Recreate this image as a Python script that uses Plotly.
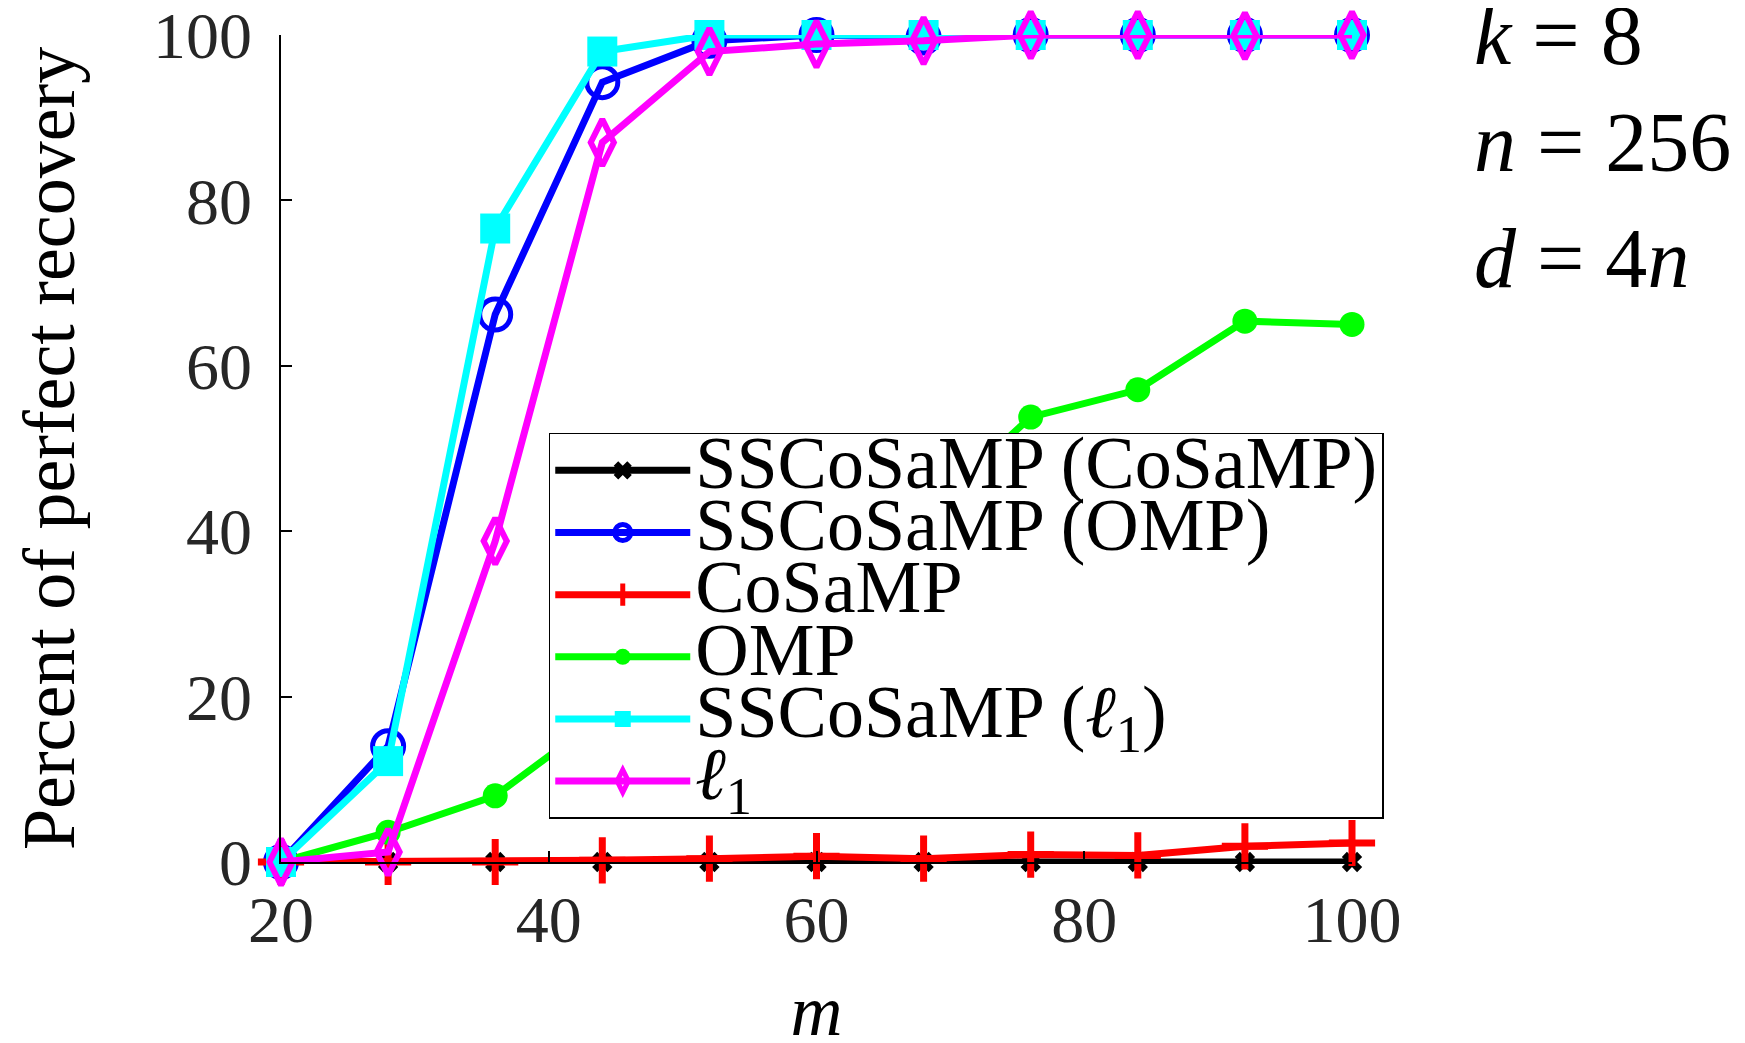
import plotly.graph_objects as go

# ---- data ----
m_values = [20, 28, 36, 44, 52, 60, 68, 76, 84, 92, 100]
ss_cosamp = [0, 0, 0, 0, 0, 0, 0, 0, 0, 0, 0]
ss_omp = [0, 14.0, 66.2, 94.3, 99.3, 100, 99.7, 100, 100, 100, 100]
cosamp = [0, 0, 0, 0.2, 0.4, 0.7, 0.4, 0.9, 0.8, 1.9, 2.3]
omp = [0, 3.6, 8.0, 17.6, 26, 34, 42, 53.8, 57.1, 65.4, 65.0]
ss_l1 = [0, 12.2, 76.6, 98.0, 100, 100, 100, 100, 100, 100, 100]
l1 = [0, 1.2, 38.8, 87.0, 98.0, 98.9, 99.3, 100, 100, 99.9, 100]

names = ["SSCoSaMP (CoSaMP)", "SSCoSaMP (OMP)", "CoSaMP", "OMP",
         "SSCoSaMP (<i>ℓ</i><sub>1</sub>)", "<i>ℓ</i><sub>1</sub>"]
x_ticks = [20, 40, 60, 80, 100]
y_ticks = [0, 20, 40, 60, 80, 100]
params = ["<i>k</i> = 8", "<i>n</i> = 256", "<i>d</i> = 4<i>n</i>"]

FONT = "Liberation Serif"

def big(s):
    return f'<span style="font-size:74px">{s}</span>'

styles = [
    dict(color="#000000", symbol="x", size=18, lw=0),
    dict(color="#0000FF", symbol="circle-open", size=31, lw=5),
    dict(color="#FF0000", symbol="cross-thin", size=33, lw=7),
    dict(color="#00FF00", symbol="circle", size=25, lw=0),
    dict(color="#00FFFF", symbol="square", size=30, lw=0),
    dict(color="#FF00FF", symbol="diamond-tall-open", size=33, lw=6),
]
series = [ss_cosamp, ss_omp, cosamp, omp, ss_l1, l1]

fig = go.Figure()
for name, ys, st in zip(names, series, styles):
    fig.add_trace(go.Scatter(
        x=m_values, y=ys, name=big(name), mode="lines+markers",
        line=dict(color=st["color"], width=7),
        marker=dict(symbol=st["symbol"], size=st["size"], color=st["color"],
                    line=dict(color=st["color"], width=st["lw"])),
        cliponaxis=False,
    ))

for txt, yy in zip(params, [0.999, 0.8695, 0.7294]):
    fig.add_annotation(
        text=txt, xref="paper", yref="paper", x=1.112, y=yy,
        xanchor="left", yanchor="middle", showarrow=False,
        font=dict(family=FONT, size=84, color="black"),
    )

fig.update_layout(
    width=1745, height=1043, autosize=False,
    margin=dict(l=273, r=401, t=27, b=189, autoexpand=False),
    paper_bgcolor="white", plot_bgcolor="white",
    showlegend=True,
    legend=dict(
        x=0.250, y=0.519, xanchor="left", yanchor="top",
        bgcolor="white", bordercolor="black", borderwidth=1.5,
        font=dict(family=FONT, size=45.5, color="black"),
        itemwidth=135, entrywidth=830, entrywidthmode="pixels",
        tracegroupgap=0,
    ),
    xaxis=dict(
        range=[20, 100], tickvals=x_ticks, ticktext=[str(v) for v in x_ticks],
        showgrid=False, zeroline=False, showline=True, linecolor="black", linewidth=1.5,
        ticks="inside", ticklen=11, tickwidth=1.5, tickcolor="black", automargin=False,
        tickfont=dict(family=FONT, size=66, color="#262626"), ticklabelstandoff=-1,
        ticklabeloverflow="allow",
        title=dict(text="<i>m</i>", font=dict(family=FONT, size=72, color="black"), standoff=34),
    ),
    yaxis=dict(
        range=[0, 100], tickvals=y_ticks, ticktext=[str(v) for v in y_ticks],
        showgrid=False, zeroline=False, showline=True, linecolor="black", linewidth=1.5,
        ticks="inside", ticklen=11, tickwidth=1.5, tickcolor="black", automargin=False,
        tickfont=dict(family=FONT, size=66, color="#262626"), ticklabelstandoff=14,
        ticklabeloverflow="allow",
        title=dict(text="Percent of perfect recovery", font=dict(family=FONT, size=74, color="black"), standoff=98),
    ),
)

fig.write_html("out.html")
